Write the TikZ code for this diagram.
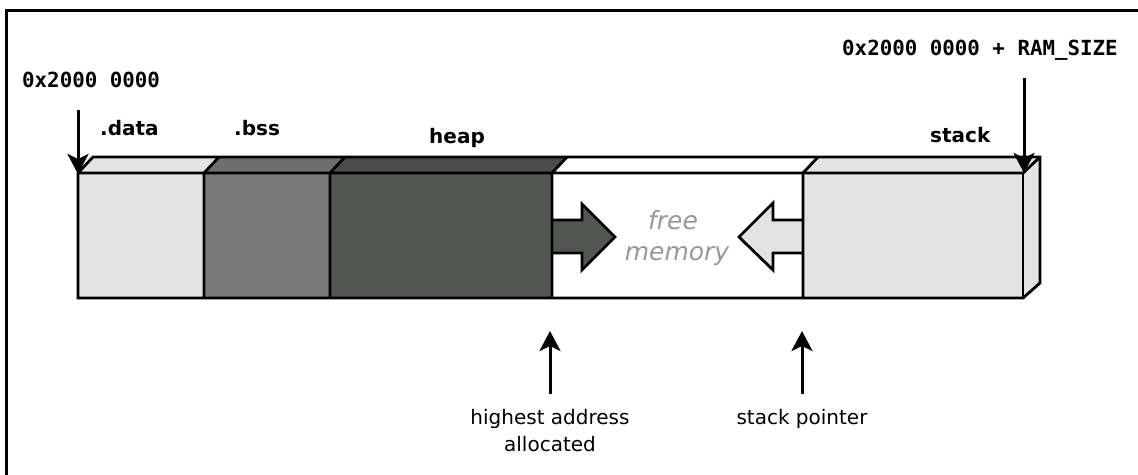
\documentclass[tikz,border=0pt]{standalone}
\usepackage{fontspec}
\setmainfont{DejaVu Sans}
\setmonofont{DejaVu Sans Mono}
\usetikzlibrary{arrows.meta}
\definecolor{cdata}{HTML}{E3E3E3}
\definecolor{cbss}{HTML}{7A7A7A}
\definecolor{cbsstop}{HTML}{6E6E6E}
\definecolor{cheap}{HTML}{535553}
\definecolor{cheaptop}{HTML}{4A4C4A}
\definecolor{cfree}{HTML}{999999}
\begin{document}
\begin{tikzpicture}[x=1pt,y=-1pt,
  seg/.style={draw=black,line width=2.8pt,line join=miter},
  ptr/.style={line width=3pt,-{Stealth[length=20pt,width=21pt,inset=5pt]}},
  addr/.style={font=\fontsize{20.8}{24}\selectfont\ttfamily\bfseries,inner sep=0pt,anchor=base west},
  seclabel/.style={font=\fontsize{20}{24}\selectfont\bfseries,inner sep=0pt,anchor=base west},
  freelbl/.style={font=\fontsize{25}{30}\selectfont\itshape,text=cfree,inner sep=0pt,anchor=base},
  note/.style={font=\fontsize{20}{27}\selectfont,inner sep=0pt,align=center,anchor=north}]
\useasboundingbox (0,0) rectangle (1138,474);
\draw[line width=3pt] (6,476) -- (6,10) -- (1140,10);
% top faces
\fill[cdata] (78,173) -- (93,157) -- (219,157) -- (204,173) -- cycle;
\fill[cbsstop] (204,173) -- (219,157) -- (345,157) -- (330,173) -- cycle;
\fill[cheaptop] (330,173) -- (345,157) -- (567,157) -- (552,173) -- cycle;
\fill[white] (552,173) -- (567,157) -- (818,157) -- (803,173) -- cycle;
\fill[cdata] (803,173) -- (818,157) -- (1040,157) -- (1023,173) -- cycle;
\fill[cdata] (1023,173) -- (1040,157) -- (1040,283) -- (1023,298) -- cycle;
% front faces
\fill[cdata] (78,173) rectangle (204,298);
\fill[cbss] (204,173) rectangle (330,298);
\fill[cheap] (330,173) rectangle (552,298);
\fill[white] (552,173) rectangle (803,298);
\fill[cdata] (803,173) rectangle (1023,298);
% inner arrows
\draw[seg,fill=cheap] (552,220) -- (582,220) -- (582,204) -- (615,237) -- (582,270) -- (582,253) -- (552,253);
\draw[seg,fill=cdata] (803,220) -- (773,220) -- (773,203) -- (739,237) -- (773,270) -- (773,253) -- (803,253);
% outlines
\draw[seg] (78,298) -- (78,173) -- (93,157) -- (1040,157) -- (1040,283) -- (1023,298) -- cycle;
\draw[seg] (78,173) -- (1023,173) -- (1040,157);
\draw[seg] (1023,173) -- (1023,298);
\draw[seg] (204,298) -- (204,173) -- (219,157);
\draw[seg] (330,298) -- (330,173) -- (345,157);
\draw[seg] (552,298) -- (552,173) -- (567,157);
\draw[seg] (803,298) -- (803,173) -- (818,157);
% labels
\node[addr] (lo) at (22,87) {0x2000 0000};
\node[addr] (hi) at (842,55) {0x2000 0000 + RAM\_SIZE};
\node[seclabel] (ldata) at (100,135) {.data};
\node[seclabel] (lbss) at (234,135) {.bss};
\node[seclabel] (lheap) at (429,143) {heap};
\node[seclabel] (lstack) at (930,142) {stack};
\node[freelbl] (free1) at (673,229) {free};
\node[freelbl] (free2) at (677,260) {memory};
\node[note] (hal) at (550,409) {highest address\\allocated};
\node[note] (sp) at (802,409) {stack pointer};
% pointer arrows
\coordinate (lotop) at (78,110);
\coordinate (lotip) at (78,174);
\coordinate (hitop) at (1024,78);
\coordinate (hitip) at (1024,173);
\coordinate (haltip) at (550,331);
\coordinate (halbot) at (550,394);
\coordinate (sptip) at (802,331);
\coordinate (spbot) at (802,394);
\draw[ptr] (lotop) -- (lotip);
\draw[ptr] (hitop) -- (hitip);
\draw[ptr] (halbot) -- (haltip);
\draw[ptr] (spbot) -- (sptip);
\end{tikzpicture}
\end{document}
